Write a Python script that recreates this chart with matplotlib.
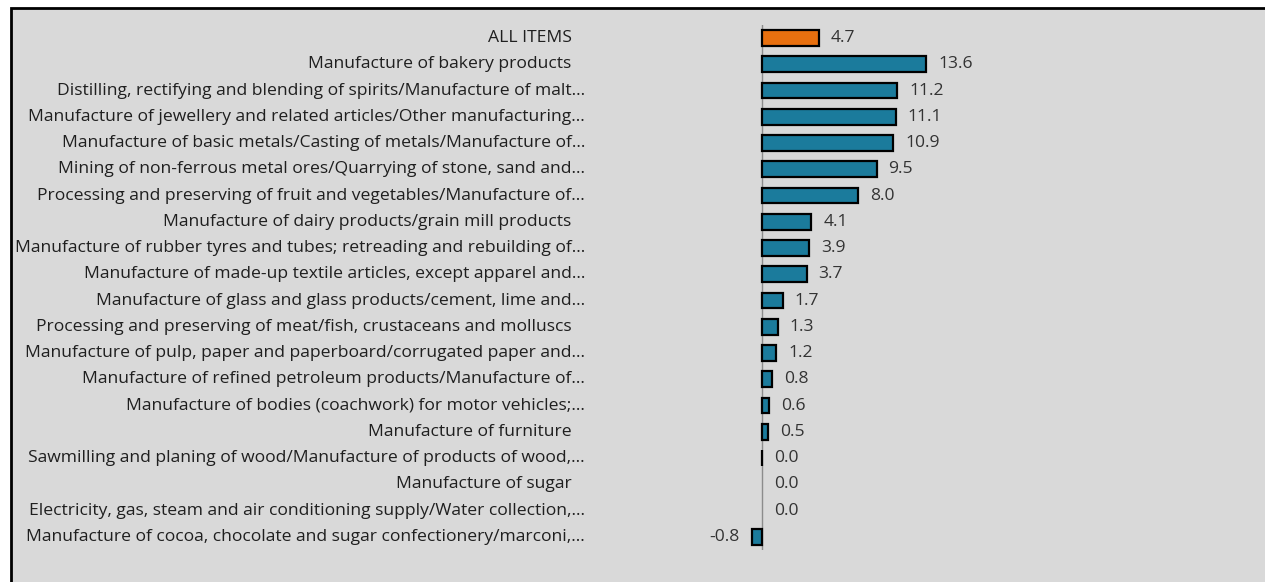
import matplotlib
matplotlib.use("Agg")
import matplotlib.pyplot as plt
import matplotlib.transforms as mtransforms
from matplotlib.patches import Rectangle

categories = [
    "ALL ITEMS   ",
    "Manufacture of bakery products   ",
    "Distilling, rectifying and blending of spirits/Manufacture of malt...",
    "Manufacture of jewellery and related articles/Other manufacturing...",
    "Manufacture of basic metals/Casting of metals/Manufacture of...",
    "Mining of non-ferrous metal ores/Quarrying of stone, sand and...",
    "Processing and preserving of fruit and vegetables/Manufacture of...",
    "Manufacture of dairy products/grain mill products   ",
    "Manufacture of rubber tyres and tubes; retreading and rebuilding of...",
    "Manufacture of made-up textile articles, except apparel and...",
    "Manufacture of glass and glass products/cement, lime and...",
    "Processing and preserving of meat/fish, crustaceans and molluscs   ",
    "Manufacture of pulp, paper and paperboard/corrugated paper and...",
    "Manufacture of refined petroleum products/Manufacture of...",
    "Manufacture of bodies (coachwork) for motor vehicles;...",
    "Manufacture of furniture   ",
    "Sawmilling and planing of wood/Manufacture of products of wood,...",
    "Manufacture of sugar   ",
    "Electricity, gas, steam and air conditioning supply/Water collection,...",
    "Manufacture of cocoa, chocolate and sugar confectionery/marconi,...",
]
values = [4.7, 13.6, 11.2, 11.1, 10.9, 9.5, 8.0, 4.1, 3.9, 3.7, 1.7, 1.3, 1.2,
          0.8, 0.6, 0.5, 0.03, 0.0, 0.0, -0.8]

W, H = 1265, 582
fig = plt.figure(figsize=(W / 100, H / 100), dpi=100)
fig.patch.set_facecolor("white")

# gray chart area with black border (cropped at right/bottom)
fig.patches.append(Rectangle((11 / W, -0.05), 1.1, (H - 8) / H + 0.05,
                             transform=fig.transFigure, facecolor="#d9d9d9",
                             edgecolor="black", linewidth=2.0, zorder=-5))

x0pix, scale = 762, 12.06
ax_l, ax_r = 600, 1240
ax_top, ax_bot = 24.9, 550
ax = fig.add_axes([ax_l / W, (H - ax_bot) / H, (ax_r - ax_l) / W, (ax_bot - ax_top) / H])
ax.set_zorder(1)
ax.set_facecolor("none")
ax.set_xlim((ax_l - x0pix) / scale, (ax_r - x0pix) / scale)
ax.set_ylim(len(values) - 0.5, -0.5)

ypos = list(range(len(values)))
colors = ["#E8700F"] + ["#1B7B9C"] * (len(values) - 1)
lws = [0 if v == 0 else 1.6 for v in values]
ax.barh(ypos, values, height=0.6, color=colors, edgecolor="black", linewidth=lws, zorder=2)
ax.axvline(0, color="#8c8c8c", linewidth=1.0, zorder=1)

FONT = "Open Sans"
FS = 12.6
for y, v in zip(ypos, values):
    if v < 0:
        ax.annotate(f"{v:.1f}", (v, y), xytext=(-13, 0), textcoords="offset pixels",
                    ha="right", va="center", fontsize=FS, color="#333333", family=FONT)
    else:
        ax.annotate(f"{v:.1f}", (v, y), xytext=(12, 0), textcoords="offset pixels",
                    ha="left", va="center", fontsize=FS, color="#333333", family=FONT)

trans = mtransforms.blended_transform_factory(fig.transFigure, ax.transData)
for y, c in zip(ypos, categories):
    fig.text(585 / W, y, c, transform=trans, ha="right", va="center",
             fontsize=FS, color="#1f1f1f", family=FONT)

for s in ax.spines.values():
    s.set_visible(False)
ax.set_xticks([])
ax.set_yticks([])

fig.savefig("out.png", dpi=100, facecolor="white")
